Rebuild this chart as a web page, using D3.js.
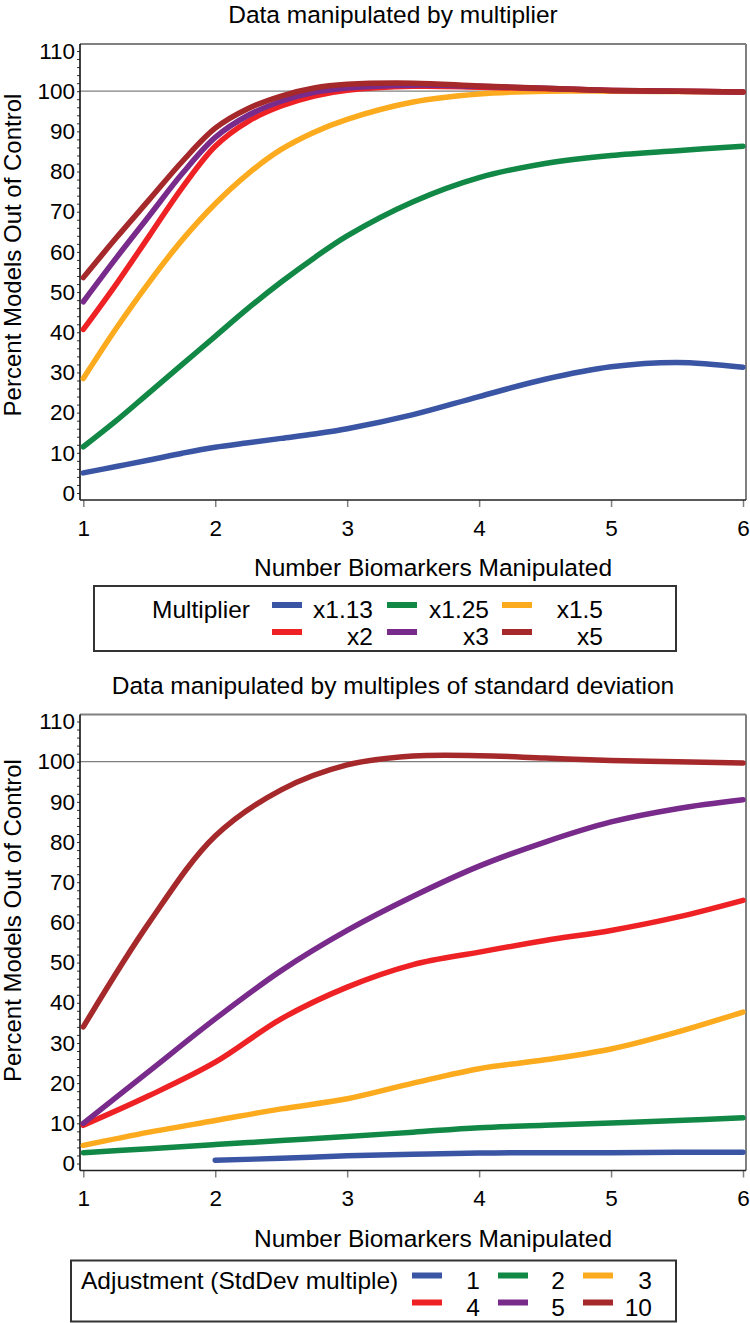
<!DOCTYPE html>
<html>
<head>
<meta charset="utf-8">
<script src="https://cdn.jsdelivr.net/npm/d3@7"></script>
<style>
  html, body { margin: 0; padding: 0; background: #fff; }
  svg { display: block; }
  text { font-family: "Liberation Sans", Arial, sans-serif; fill: #000; }
</style>
</head>
<body>
<svg id="chart" width="750" height="1323"></svg>
<script>
// ---------- DATA ----------
const xTicks = [1, 2, 3, 4, 5, 6];
const yTicks = [0, 10, 20, 30, 40, 50, 60, 70, 80, 90, 100, 110];

// Panel 1: multiplier
const multX = [1, 1.25, 1.5, 1.75, 2, 2.25, 2.5, 2.75, 3, 3.5, 4, 4.5, 5, 5.5, 6];
const multiplierLabels = ["x1.13", "x1.25", "x1.5", "x2", "x3", "x5"];
const mult113 = [5, 6.6, 8.2, 9.9, 11.4, 12.5, 13.6, 14.7, 16, 19.5, 24, 28.3, 31.4, 32.5, 31.3];
const mult125 = [11.5, 18, 25, 32, 39, 46, 52.5, 58.5, 64, 72.5, 78.5, 82, 84, 85.2, 86.3];
const mult15  = [28.5, 41, 52.5, 63, 72, 79.5, 85.5, 89.8, 93, 97.3, 99.3, 100, 100, 99.9, 99.8];
const mult2   = [40.7, 52, 64, 76, 86.3, 92.5, 96.3, 98.8, 100.2, 101.2, 101, 100.6, 100.2, 100, 99.8];
const mult3   = [47.6, 58.5, 69, 79.5, 88.5, 94, 97.5, 99.7, 100.8, 101.5, 101.2, 100.7, 100.2, 100, 99.8];
const mult5   = [53.6, 63.5, 73, 82.5, 90.8, 95.7, 98.8, 100.8, 101.7, 102, 101.3, 100.7, 100.2, 100, 99.8];

// Panel 2: StdDev multiple
const sdX = [1, 1.5, 2, 2.5, 3, 3.5, 4, 4.5, 5, 5.5, 6];
const sdLabels = ["1", "2", "3", "4", "5", "10"];
const sd1  = [null, null, 0.8, 1.3, 1.9, 2.3, 2.6, 2.7, 2.7, 2.8, 2.8];
const sd2  = [2.7, 3.7, 4.7, 5.7, 6.7, 7.8, 8.9, 9.5, 10.1, 10.7, 11.4];
const sd3  = [4.5, 7.8, 10.7, 13.6, 16.1, 20, 23.6, 25.8, 28.5, 32.7, 37.7];
const sd4  = [9.5, 16.9, 25.2, 36, 43.9, 49.5, 52.6, 55.5, 58, 61.3, 65.5];
const sd5  = [10, 23, 36, 48, 58, 66.5, 74, 80, 85, 88.3, 90.5];
const sd10 = [34, 60, 81.5, 93, 99.2, 101.4, 101.5, 100.9, 100.3, 100, 99.7];

const seriesColors = ["#3b55a5", "#118845", "#fcab1f", "#ee2225", "#782b8a", "#a5282a"];

// ---------- LAYOUT ----------
const svg = d3.select("#chart");
const FONT = '"Liberation Sans", Arial, sans-serif';

function drawPanel(cfg) {
  const g = svg.append("g").attr("transform", `translate(0,${cfg.dy})`);
  const frame = {x0: 80, x1: 746, y0: 44, y1: 500};
  const x = d3.scaleLinear().domain([1, 6]).range([83.3, 743]);
  const y = d3.scaleLinear().domain([0, 110]).range([493, 51]);

  // title
  g.append("text").attr("x", 393).attr("y", 23).attr("text-anchor", "middle")
    .style("font-size", "24.5px").text(cfg.title);

  // frame (top/right gray)
  g.append("line").attr("x1", frame.x0).attr("x2", frame.x1).attr("y1", frame.y0).attr("y2", frame.y0)
    .attr("stroke", "#808080").attr("stroke-width", 2);
  g.append("line").attr("x1", frame.x1).attr("x2", frame.x1).attr("y1", frame.y0).attr("y2", frame.y1)
    .attr("stroke", "#808080").attr("stroke-width", 2);

  // reference line at 100
  g.append("line").attr("x1", frame.x0).attr("x2", frame.x1).attr("y1", y(100)).attr("y2", y(100))
    .attr("stroke", "#808080").attr("stroke-width", 1.2);

  // y axis
  const yAxis = d3.axisLeft(y).tickValues(yTicks).tickSize(3).tickPadding(2).tickFormat(d3.format("d"));
  const ya = g.append("g").attr("transform", `translate(${frame.x0},0)`).call(yAxis);
  ya.select(".domain").remove();
  ya.selectAll(".tick line").attr("stroke", "#333");
  ya.selectAll("text").style("font-family", FONT).style("font-size", "22.5px").attr("fill", "#000");
  // minor ticks
  const yMinor = d3.axisLeft(y).tickValues(d3.range(0, 111, 2).filter(v => v % 10 !== 0)).tickSize(3).tickFormat("");
  const ym = g.append("g").attr("transform", `translate(${frame.x0},0)`).call(yMinor);
  ym.select(".domain").remove();
  ym.selectAll(".tick line").attr("stroke", "#333");
  g.append("line").attr("x1", frame.x0).attr("x2", frame.x0).attr("y1", frame.y0).attr("y2", frame.y1)
    .attr("stroke", "#111").attr("stroke-width", 1.6);

  // x axis
  const xAxis = d3.axisBottom(x).tickValues(xTicks).tickSize(7).tickPadding(13).tickFormat(d3.format("d"));
  const xa = g.append("g").attr("transform", `translate(0,${frame.y1})`).call(xAxis);
  xa.select(".domain").remove();
  xa.selectAll(".tick line").attr("stroke", "#808080").attr("stroke-width", 1.5);
  xa.selectAll("text").style("font-family", FONT).style("font-size", "22.5px").attr("fill", "#000");
  g.append("line").attr("x1", frame.x0).attr("x2", frame.x1).attr("y1", frame.y1).attr("y2", frame.y1)
    .attr("stroke", "#222").attr("stroke-width", 1.6);

  // axis titles
  g.append("text").attr("x", 433).attr("y", 576).attr("text-anchor", "middle")
    .style("font-size", "24.5px").text("Number Biomarkers Manipulated");
  g.append("text").attr("transform", `translate(21,${cfg.yTitleY}) rotate(-90)`).attr("text-anchor", "middle")
    .style("font-size", "24px").text("Percent Models Out of Control");

  // lines
  const line = d3.line()
    .defined(d => d[1] !== null)
    .x(d => x(d[0])).y(d => y(d[1]))
    .curve(d3.curveCatmullRom.alpha(0.5));
  cfg.series.forEach((s, i) => {
    g.append("path")
      .datum(cfg.xs.map((xv, j) => [xv, s[j]]))
      .attr("d", line)
      .attr("fill", "none")
      .attr("stroke", seriesColors[i])
      .attr("stroke-width", 5.5)
      .attr("stroke-linecap", "round")
      .attr("stroke-linejoin", "round");
  });

  // legend
  const L = cfg.legend;
  g.append("rect").attr("x", L.x0).attr("y", L.y0).attr("width", L.x1 - L.x0).attr("height", L.y1 - L.y0)
    .attr("fill", "#fff").attr("stroke", "#333").attr("stroke-width", 2);
  g.append("text").attr("x", L.titleX).attr("y", L.row1 + 9).style("font-size", "24.5px").text(L.title);
  cfg.labels.forEach((lab, i) => {
    const col = i % 3, row = Math.floor(i / 3);
    const sx = L.swX[col];
    const ry = row === 0 ? L.row1 : L.row2;
    g.append("line").attr("x1", sx).attr("x2", sx + 30).attr("y1", ry - 4).attr("y2", ry - 4)
      .attr("stroke", seriesColors[i]).attr("stroke-width", 6);
    g.append("text").attr("x", L.txtX[col]).attr("y", ry + 9).attr("text-anchor", "end")
      .style("font-size", "24.5px").text(lab);
  });
}

drawPanel({
  dy: 0,
  title: "Data manipulated by multiplier",
  yTitleY: 255,
  xs: multX,
  series: [mult113, mult125, mult15, mult2, mult3, mult5],
  labels: multiplierLabels,
  legend: {x0: 94, x1: 676, y0: 586, y1: 651, titleX: 152, title: "Multiplier",
           row1: 609, row2: 636, swX: [272, 387, 502], txtX: [373, 489, 603]}
});

drawPanel({
  dy: 670.5,
  title: "Data manipulated by multiples of standard deviation",
  yTitleY: 250,
  xs: sdX,
  series: [sd1, sd2, sd3, sd4, sd5, sd10],
  labels: sdLabels,
  legend: {x0: 71, x1: 676, y0: 590, y1: 651, titleX: 81, title: "Adjustment (StdDev multiple)",
           row1: 609, row2: 636, swX: [412, 498, 583], txtX: [480, 565, 652]}
});
</script>
</body>
</html>
